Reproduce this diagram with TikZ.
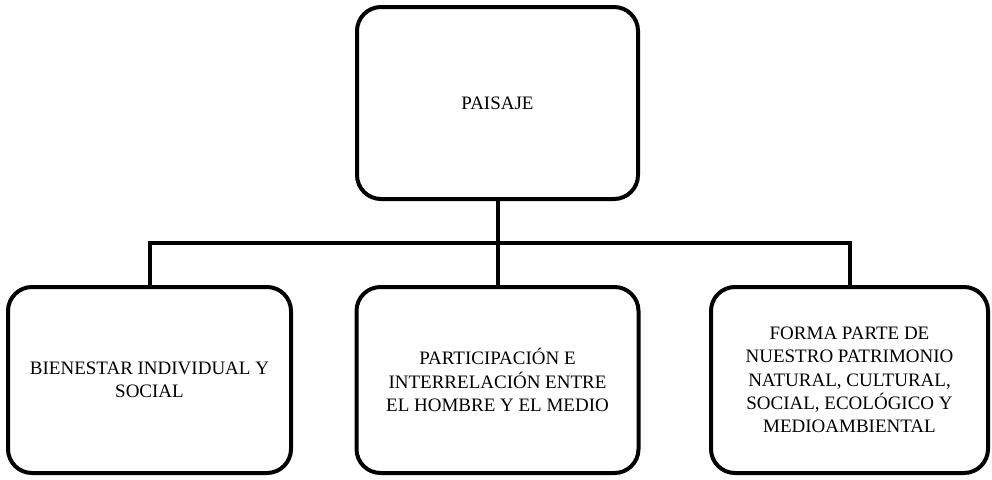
\documentclass[tikz,border=0pt]{standalone}
\usepackage{fontspec}
\setmainfont{Liberation Serif}
\begin{document}
\begin{tikzpicture}[x=1pt, y=1pt,
  caja/.style={draw=black, line width=4pt, rounded corners=24pt, align=center,
    font=\fontsize{19}{23.3}\selectfont, inner sep=0pt},
  enlace/.style={draw=black, line width=4pt}]
\useasboundingbox (0pt, 0pt) rectangle (992pt, -479pt);
\node[caja, minimum width=281pt, minimum height=192pt] (paisaje) at (497.5pt, -103pt) {PAISAJE};
\node[caja, minimum width=283pt, minimum height=186pt] (bienestar) at (149.5pt, -380pt) {BIENESTAR INDIVIDUAL Y\\SOCIAL};
\node[caja, minimum width=282pt, minimum height=186pt] (participacion) at (497.5pt, -380pt) {PARTICIPACIÓN E\\INTERRELACIÓN ENTRE\\EL HOMBRE Y EL MEDIO};
\node[caja, minimum width=277pt, minimum height=186pt] (patrimonio) at (849.5pt, -380pt) {FORMA PARTE DE\\NUESTRO PATRIMONIO\\NATURAL, CULTURAL,\\SOCIAL, ECOLÓGICO Y\\MEDIOAMBIENTAL};
\coordinate (barra) at (497.5pt, -243pt);
\draw[enlace] (paisaje.south) -- (barra);
\draw[enlace] (bienestar.north) |- (barra) -| (patrimonio.north);
\draw[enlace] (barra) -- (participacion.north);
\end{tikzpicture}
\end{document}
